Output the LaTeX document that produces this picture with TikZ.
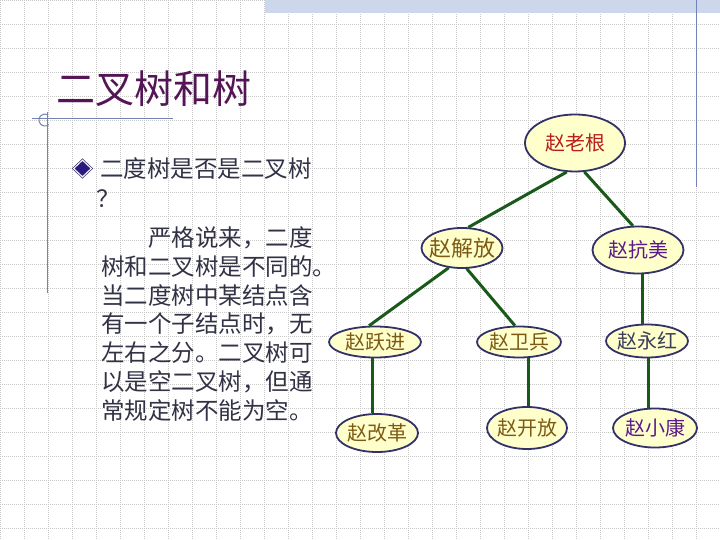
\documentclass[tikz,border=0pt]{standalone}
\usepackage{fontspec}
\setmainfont{Noto Sans CJK SC}
\usepackage{tikz}
\usetikzlibrary{shapes.geometric}
\definecolor{titlepurple}{RGB}{85, 20, 85}
\definecolor{textgray}{RGB}{50, 50, 70}
\definecolor{framegray}{RGB}{115, 130, 180}
\definecolor{bandblue}{RGB}{205, 215, 236}
\definecolor{gridgray}{RGB}{200, 200, 200}
\definecolor{nodefill}{RGB}{255, 255, 204}
\definecolor{nodeborder}{RGB}{50, 50, 105}
\definecolor{edgegreen}{RGB}{25, 90, 25}
\definecolor{rootred}{RGB}{185, 30, 30}
\definecolor{namebrown}{RGB}{125, 90, 20}
\definecolor{namepurple}{RGB}{90, 25, 140}
\definecolor{namegray}{RGB}{60, 60, 90}
\definecolor{bulletblue}{RGB}{45, 25, 130}

\begin{document}
\begin{tikzpicture}[x=1pt, y=-1pt,
    gridline/.style={gridgray, line width=0.6pt, dash pattern=on 1pt off 1pt},
    frameline/.style={framegray, line width=1pt},
    person/.style={ellipse, draw=nodeborder, fill=nodefill, line width=1.8pt,
                   inner xsep=-8pt, inner ysep=-4pt,
                   font=\fontsize{20}{24}\selectfont, text=#1},
    person/.default=namebrown,
    branch/.style={edgegreen, line width=3pt},
    body/.style={anchor=base west, inner sep=0pt, text=textgray,
                 font=\fontsize{23.5}{28}\selectfont},
]
\useasboundingbox (0,0) rectangle (720,540);
\fill[white] (0,0) rectangle (720,540);

% background grid and frame
\foreach \gx in {0,24,...,720}
  \draw[gridline] (\gx,0) -- (\gx,540);
\foreach \gy in {0,24,...,528}
  \draw[gridline] (0,\gy) -- (720,\gy);
\fill[bandblue] (265,0) rectangle (720,13);
\draw[frameline] (696,0) -- (696,187);
\draw[frameline] (32,119) -- (173,119);
\draw[frameline] (47,112) -- (47,293);
\draw[frameline] (45,120) ++(50:6) arc[start angle=50, end angle=300, radius=6];

% title and text
\node[anchor=base west, inner sep=0pt, text=titlepurple,
      font=\fontsize{39}{40}\selectfont] (title) at (56,104) {二叉树和树};
\node[diamond, fill=bulletblue, draw=nodeborder, line width=0.7pt,
      double=white, double distance=1pt, minimum width=18, minimum height=17,
      inner sep=0pt] (bul) at (82.5,168.5) {};
\node[body] (q1) at (100,178) {二度树是否是二叉树};
\node[body] (q2) at (96,207.5) {？};
\foreach \ln [count=\i] in {{\hspace*{2em}严格说来，二度}, 树和二叉树是不同的。,
    当二度树中某结点含, 有一个子结点时，无, 左右之分。二叉树可,
    以是空二叉树，但通, 常规定树不能为空。}
  \node[body] (p\i) at (101,{246.5+28.75*(\i-1)}) {\ln};

% the tree
\node[person=rootred, minimum width=100, minimum height=57] (lg) at (575,143) {赵老根};
\node[person, minimum width=81, minimum height=40,
      font=\fontsize{22}{24}\selectfont] (jf) at (462,248) {赵解放};
\node[person=namepurple, minimum width=91, minimum height=47] (km) at (638,250) {赵抗美};
\node[person, minimum width=92, minimum height=31] (yj) at (375,342) {赵跃进};
\node[person, minimum width=84, minimum height=31] (wb) at (519,342) {赵卫兵};
\node[person=namegray, minimum width=82, minimum height=33] (yh) at (647,341) {赵永红};
\node[person, minimum width=82, minimum height=38] (gg) at (377,433) {赵改革};
\node[person, minimum width=80, minimum height=42] (kf) at (527,428) {赵开放};
\node[person=namepurple, minimum width=84, minimum height=39] (xk) at (655,428) {赵小康};

\draw[branch] (lg.-106) -- (jf.73);
\draw[branch] (lg.-72) -- (km.102);
\draw[branch] (jf.-124) -- (yj.110);
\draw[branch] (jf.-77) -- (wb.104);
\draw[branch] ([xshift=4pt]km.south) -- ([xshift=-5pt]yh.north);
\draw[branch] ([xshift=-3pt]yj.south) -- ([xshift=-5pt]gg.north);
\draw[branch] ([xshift=9pt]wb.south) -- ([xshift=1pt]kf.north);
\draw[branch] ([xshift=1pt]yh.south) -- ([xshift=-7pt]xk.north);

\end{tikzpicture}
\end{document}
